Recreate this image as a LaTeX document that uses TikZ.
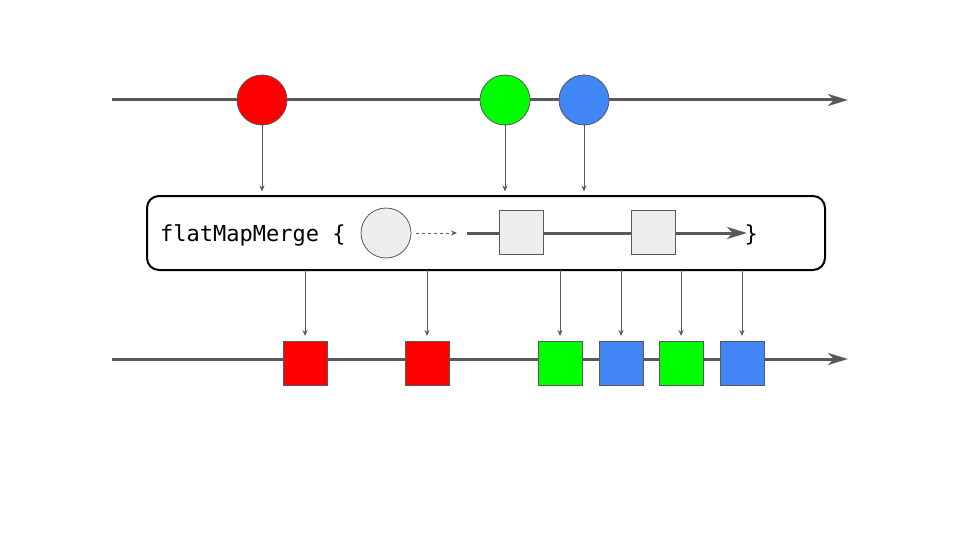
\documentclass[tikz,border=0pt]{standalone}
\usepackage{fontspec}
\setmonofont{DejaVu Sans Mono}
\usetikzlibrary{arrows.meta}
\definecolor{ln}{HTML}{595959}
\definecolor{rd}{HTML}{FF0000}
\definecolor{gn}{HTML}{00FF00}
\definecolor{bl}{HTML}{4285F4}
\definecolor{lg}{HTML}{EEEEEE}
\tikzset{
  timeline/.style={draw=ln, line width=3pt, -{Stealth[length=20pt,width=12pt,inset=6pt]}},
  innerline/.style={draw=ln, line width=3pt, -{Stealth[length=20pt,width=12pt,inset=6pt]}},
  plainline/.style={draw=ln, line width=3pt},
  marble/.style={circle, draw=ln, line width=0.8pt, minimum size=50pt, inner sep=0pt},
  sq/.style={rectangle, draw=ln, line width=1pt, minimum size=44pt, inner sep=0pt},
  conn/.style={draw=ln, line width=1pt, -{Stealth[length=6pt,width=5pt]}},
  dconn/.style={draw=ln, line width=0.8pt, dashed, dash pattern=on 3pt off 3pt, -{Stealth[length=6pt,width=5pt]}},
  opbox/.style={draw=black, line width=2pt, rounded corners=12pt, minimum width=678pt, minimum height=74pt, inner sep=0pt},
  code/.style={font=\ttfamily\fontsize{22pt}{26pt}\selectfont, inner sep=0pt, text=black}
}
\begin{document}
\begin{tikzpicture}[x=1pt,y=-1pt]
\useasboundingbox (0,0) rectangle (960,540);
% top timeline
\coordinate (t0) at (112,100);
\coordinate (t1) at (848,100);
\draw[timeline] (t0) -- (t1);
\node[marble, fill=rd] (c1) at (262,100) {};
\node[marble, fill=gn] (c2) at (505,100) {};
\node[marble, fill=bl] (c3) at (584,100) {};
% operator box
\node[opbox] (box) at (486,233) {};
\node[code, anchor=base west] (txt) at (160,241.5) {flatMapMerge \{};
\node[marble, fill=lg] (gc) at (386,233) {};
\coordinate (d1) at (457,233);
\draw[dconn] ([xshift=5pt]gc.east) -- (d1);
\coordinate (i0) at (467,233);
\coordinate (i1) at (747,233);
\draw[innerline] (i0) -- (i1);
\node[sq, fill=lg] (s1) at (521,232) {};
\node[sq, fill=lg] (s2) at (653,232) {};
\node[code, anchor=base west] (br) at (744.5,241.5) {\}};
% connectors top
\foreach \c in {c1,c2,c3}{
  \draw[conn, shorten >=3.5pt] ([yshift=1pt]\c.south) -- (\c.south |- box.north);
}
% bottom timeline
\coordinate (b0) at (112,359);
\coordinate (b1) at (848,359);
\draw[timeline] (b0) -- (b1);
\node[sq, fill=rd] (o1) at (305,363.5) {};
\node[sq, fill=rd] (o2) at (427,363.5) {};
\node[sq, fill=gn] (o3) at (560,363.5) {};
\node[sq, fill=bl] (o4) at (621,363.5) {};
\node[sq, fill=gn] (o5) at (681,363.5) {};
\node[sq, fill=bl] (o6) at (742,363.5) {};
\foreach \o in {o1,o2,o3,o4,o5,o6}{
  \draw[conn, shorten >=5pt] (\o.north |- box.south) ++(0,1pt) -- (\o.north);
}
\end{tikzpicture}
\end{document}
